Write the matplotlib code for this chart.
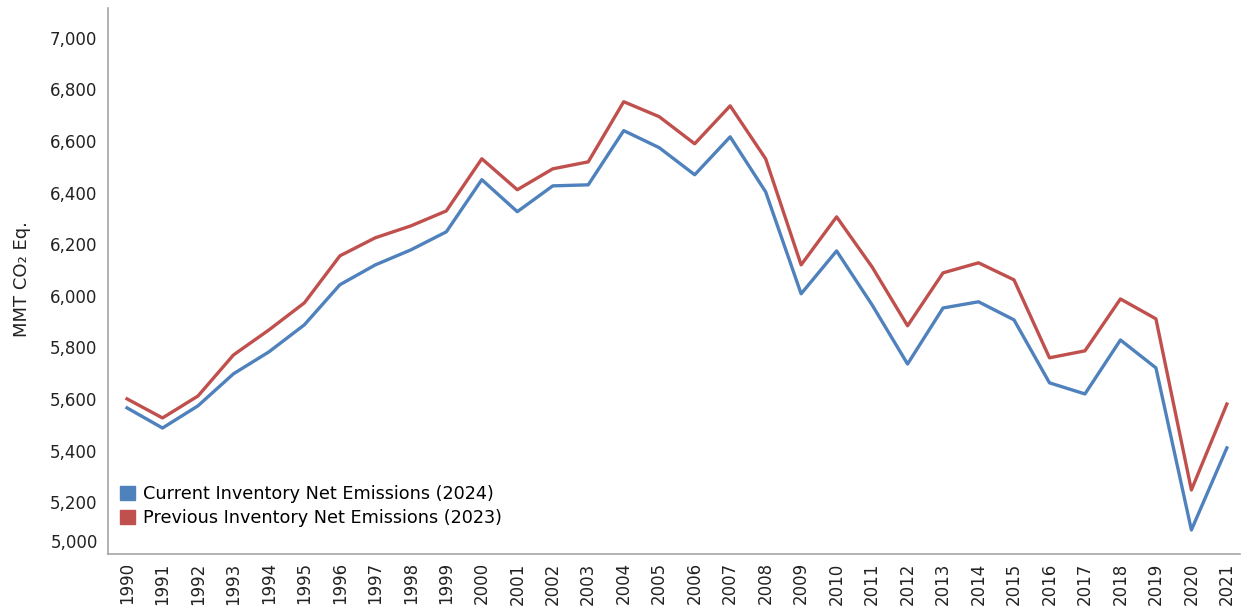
import numpy as np
import matplotlib
matplotlib.use("Agg")
import matplotlib.pyplot as plt
import matplotlib.patches as mpatches
import matplotlib.transforms as mtransforms

years = list(range(1990, 2022))

# MMT CO2 Eq.
current_2024 = [5566, 5488, 5574, 5698, 5783, 5888, 6043, 6120, 6178, 6248,
                6450, 6326, 6426, 6430, 6640, 6574, 6469, 6616, 6403, 6008,
                6174, 5965, 5736, 5953, 5977, 5907, 5663, 5620, 5829, 5721,
                5093, 5411]
previous_2023 = [5601, 5527, 5612, 5771, 5868, 5973, 6155, 6225, 6271, 6329,
                 6531, 6411, 6492, 6519, 6752, 6694, 6589, 6736, 6531, 6120,
                 6306, 6112, 5884, 6089, 6128, 6062, 5760, 5787, 5988, 5911,
                 5248, 5581]
series_names = ["Current Inventory Net Emissions (2024)",
                "Previous Inventory Net Emissions (2023)"]
yticks = list(range(5000, 7001, 200))

blue = "#4F81BD"
red = "#C0504D"
txt = "#222222"

plt.rcParams['font.family'] = ['DejaVu Sans']

fig = plt.figure(figsize=(12.42, 6.06), dpi=100)
ax = fig.add_axes([108 / 1242, 52 / 606, 1132 / 1242, 546 / 606])

ax.plot(years, previous_2023, color=red, lw=2.4)
ax.plot(years, current_2024, color=blue, lw=2.4)

ax.set_xlim(1989.464, 2021.37)
ax.set_ylim(5000, 7115)
ax.set_xticks(years)
ax.set_xticklabels([str(y) for y in years], rotation=90, fontsize=12, color=txt)
ax.set_yticks(yticks)
# bottom label is drawn separately, a bit higher, like the original
ax.set_yticklabels([""] + [f"{v:,}" for v in yticks[1:]], fontsize=12, color=txt)
off = mtransforms.ScaledTranslation(-10 / 100, 11 / 100, fig.dpi_scale_trans)
ax.text(0, yticks[0], f"{yticks[0]:,}", fontsize=12, color=txt, ha="right", va="center",
        transform=ax.get_yaxis_transform() + off)

ax.tick_params(axis="both", length=0)
ax.tick_params(axis="y", pad=8)
ax.tick_params(axis="x", pad=6)
for s in ["top", "right"]:
    ax.spines[s].set_visible(False)
for s in ["left", "bottom"]:
    ax.spines[s].set_color("#A6A6A6")
    ax.spines[s].set_linewidth(1.2)

ax.set_ylabel("MMT CO₂ Eq.", fontsize=13, color=txt)
ax.yaxis.set_label_coords(-0.068, 0.504)

handles = [mpatches.Patch(color=blue), mpatches.Patch(color=red)]
ax.legend(handles, series_names, loc="lower left", bbox_to_anchor=(0.0, 0.027),
          frameon=False, fontsize=12.7, handlelength=0.85, handleheight=0.85,
          handletextpad=0.45, labelspacing=0.35, borderaxespad=0.3)

fig.savefig("out.png", dpi=100)
